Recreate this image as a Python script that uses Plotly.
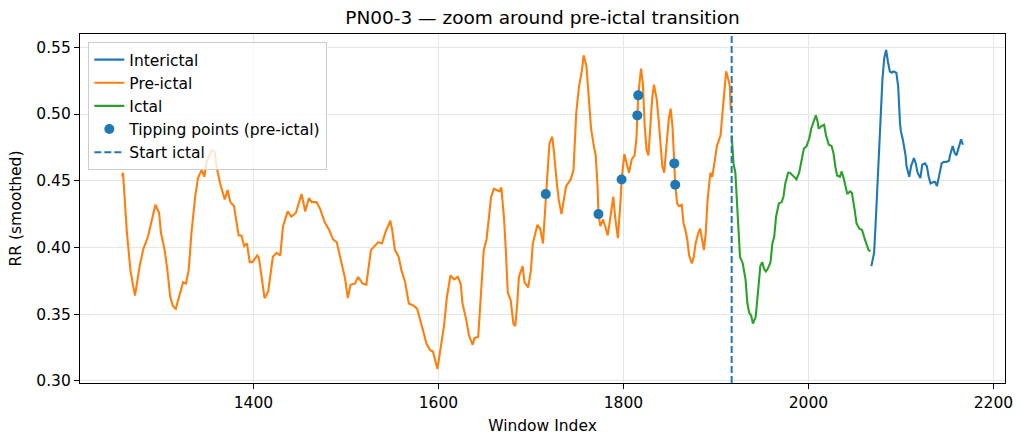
import plotly.graph_objects as go

# Smoothed RR series around the pre-ictal -> ictal transition (window index, RR)
pre_x = [1258, 1259, 1263, 1267, 1270, 1272, 1277, 1281, 1286, 1290, 1294, 1298, 1300, 1304,
         1307, 1310, 1313, 1316, 1321, 1324, 1327, 1330, 1333, 1337, 1340, 1344, 1347, 1349,
         1351, 1355, 1358, 1360, 1364, 1369, 1372, 1375, 1379, 1384, 1387, 1390, 1393, 1396,
         1399, 1404, 1406, 1409, 1412, 1416, 1421, 1425, 1429, 1432, 1437, 1441, 1446, 1448,
         1452, 1456, 1460, 1463, 1468, 1472, 1477, 1482, 1486, 1490, 1495, 1499, 1502, 1505,
         1510, 1513, 1518, 1522, 1527, 1531, 1535, 1539, 1543, 1548, 1550, 1553, 1557, 1560,
         1564, 1568, 1574, 1577, 1582, 1584, 1587, 1591, 1594, 1599, 1602, 1606, 1609, 1613,
         1617, 1621, 1624, 1626, 1630, 1633, 1637, 1639, 1643, 1646, 1649, 1652, 1655, 1657,
         1660, 1664, 1666, 1668, 1671, 1673, 1675, 1678, 1681, 1683, 1685, 1687, 1691, 1693,
         1697, 1700, 1702, 1707, 1710, 1713, 1715, 1716, 1718, 1720, 1723, 1725, 1728, 1730,
         1733, 1736, 1738, 1743, 1746, 1749, 1752, 1755, 1757, 1760, 1763, 1765, 1768, 1770,
         1772, 1773, 1775, 1778, 1781, 1783, 1786, 1789, 1791, 1794, 1797, 1798, 1801, 1804,
         1806, 1809, 1812, 1814, 1815, 1816, 1819, 1821, 1823, 1825, 1827, 1829, 1831, 1833,
         1836, 1838, 1840, 1842, 1844, 1846, 1849, 1851, 1853, 1855, 1856, 1858, 1860, 1863,
         1865, 1867, 1869, 1871, 1874, 1876, 1878, 1881, 1883, 1885, 1887, 1889, 1891, 1894,
         1896, 1899, 1901, 1905, 1907, 1909, 1911, 1913, 1915, 1916]
pre_y = [0.453, 0.456, 0.413, 0.383, 0.371, 0.364, 0.386, 0.399, 0.408, 0.421, 0.432, 0.426, 0.411, 0.398,
         0.383, 0.363, 0.356, 0.354, 0.366, 0.374, 0.373, 0.383, 0.411, 0.438, 0.452, 0.458, 0.453, 0.463,
         0.467, 0.473, 0.472, 0.461, 0.448, 0.436, 0.443, 0.434, 0.431, 0.409, 0.409, 0.401, 0.403, 0.389,
         0.389, 0.394, 0.392, 0.378, 0.362, 0.367, 0.393, 0.396, 0.394, 0.416, 0.427, 0.423, 0.426, 0.431,
         0.440, 0.427, 0.437, 0.434, 0.434, 0.429, 0.419, 0.413, 0.406, 0.404, 0.388, 0.377, 0.362, 0.372,
         0.373, 0.378, 0.373, 0.372, 0.398, 0.401, 0.404, 0.403, 0.412, 0.420, 0.413, 0.398, 0.393, 0.383,
         0.374, 0.358, 0.356, 0.354, 0.342, 0.336, 0.328, 0.323, 0.322, 0.309, 0.323, 0.341, 0.362, 0.379,
         0.376, 0.378, 0.373, 0.358, 0.346, 0.334, 0.327, 0.332, 0.333, 0.362, 0.398, 0.406, 0.426, 0.438,
         0.444, 0.443, 0.442, 0.445, 0.421, 0.396, 0.366, 0.361, 0.343, 0.341, 0.356, 0.378, 0.386, 0.374,
         0.370, 0.383, 0.403, 0.417, 0.414, 0.403, 0.426, 0.440, 0.463, 0.478, 0.483, 0.471, 0.448, 0.436,
         0.425, 0.436, 0.446, 0.451, 0.458, 0.501, 0.521, 0.532, 0.544, 0.536, 0.508, 0.489, 0.476, 0.469,
         0.446, 0.425, 0.416, 0.421, 0.414, 0.409, 0.423, 0.438, 0.423, 0.407, 0.436, 0.451, 0.470, 0.462,
         0.456, 0.466, 0.469, 0.481, 0.499, 0.514, 0.534, 0.523, 0.491, 0.473, 0.469, 0.488, 0.511, 0.522,
         0.511, 0.496, 0.478, 0.461, 0.456, 0.473, 0.496, 0.504, 0.491, 0.463, 0.447, 0.433, 0.431, 0.432,
         0.418, 0.413, 0.406, 0.394, 0.388, 0.393, 0.403, 0.411, 0.414, 0.406, 0.398, 0.411, 0.436, 0.456,
         0.453, 0.466, 0.476, 0.484, 0.501, 0.518, 0.532, 0.527, 0.521, 0.503]

ictal_x = [1917, 1919, 1921, 1923, 1925, 1926, 1929, 1932, 1934, 1936, 1938, 1940, 1943, 1945,
           1948, 1950, 1952, 1954, 1956, 1959, 1961, 1963, 1965, 1968, 1971, 1973, 1975, 1978,
           1980, 1983, 1987, 1990, 1992, 1995, 1998, 2001, 2003, 2006, 2008, 2010, 2011, 2014,
           2017, 2019, 2022, 2025, 2027, 2029, 2031, 2034, 2036, 2038, 2040, 2042, 2045, 2047,
           2050, 2052, 2055, 2058, 2061, 2063, 2065, 2067]
ictal_y = [0.484, 0.463, 0.456, 0.431, 0.406, 0.393, 0.388, 0.376, 0.358, 0.351, 0.349, 0.343, 0.348, 0.366,
           0.386, 0.389, 0.384, 0.382, 0.384, 0.389, 0.403, 0.408, 0.423, 0.433, 0.434, 0.438, 0.448, 0.456,
           0.456, 0.454, 0.451, 0.456, 0.464, 0.474, 0.476, 0.482, 0.489, 0.496, 0.499, 0.494, 0.489, 0.491,
           0.492, 0.484, 0.477, 0.476, 0.471, 0.461, 0.454, 0.453, 0.457, 0.452, 0.446, 0.440, 0.442, 0.441,
           0.428, 0.418, 0.414, 0.413, 0.406, 0.401, 0.398, 0.397]

inter_x = [2068, 2071, 2073, 2075, 2078, 2080, 2082, 2084, 2086, 2088, 2090, 2092, 2095, 2097,
           2099, 2100, 2102, 2105, 2106, 2109, 2111, 2114, 2116, 2118, 2121, 2123, 2126, 2128,
           2130, 2132, 2135, 2137, 2139, 2142, 2144, 2146, 2149, 2152, 2153, 2156, 2158, 2160,
           2162, 2165, 2167]
inter_y = [0.386, 0.396, 0.423, 0.456, 0.493, 0.526, 0.542, 0.548, 0.539, 0.532, 0.531, 0.532, 0.531, 0.521,
           0.493, 0.487, 0.481, 0.469, 0.461, 0.453, 0.461, 0.467, 0.463, 0.456, 0.452, 0.462, 0.463, 0.461,
           0.453, 0.448, 0.449, 0.449, 0.446, 0.457, 0.463, 0.464, 0.464, 0.465, 0.469, 0.476, 0.471, 0.469,
           0.474, 0.481, 0.477]

# Tipping-point windows inside the pre-ictal segment
tip_idx = [1716, 1773, 1798, 1815, 1816, 1855, 1856]
tip_y = [pre_y[pre_x.index(i)] for i in tip_idx]

ictal_start = 1917

x_range = [1212.5, 2212.5]
y_range = [0.2984, 0.560]
x_ticks = [1400, 1600, 1800, 2000, 2200]
y_ticks = [0.30, 0.35, 0.40, 0.45, 0.50, 0.55]

BLUE, ORANGE, GREEN = "#1f77b4", "#ff7f0e", "#2ca02c"
FONT = "DejaVu Sans"
FS = 15.5

fig = go.Figure()
fig.add_trace(go.Scatter(x=inter_x, y=inter_y, mode="lines", name="Interictal",
                         line=dict(color=BLUE, width=2.1)))
fig.add_trace(go.Scatter(x=pre_x, y=pre_y, mode="lines", name="Pre-ictal",
                         line=dict(color=ORANGE, width=2.1)))
fig.add_trace(go.Scatter(x=ictal_x, y=ictal_y, mode="lines", name="Ictal",
                         line=dict(color=GREEN, width=2.1)))
fig.add_trace(go.Scatter(x=tip_idx, y=tip_y, mode="markers", name="Tipping points (pre-ictal)",
                         marker=dict(color=BLUE, size=10, line=dict(width=0))))
fig.add_trace(go.Scatter(x=[ictal_start, ictal_start], y=y_range, mode="lines", name="Start ictal",
                         line=dict(color=BLUE, width=2, dash="7px,3px")))

axis_common = dict(
    showline=True, linecolor="black", linewidth=1.1, mirror=True,
    ticks="outside", ticklen=5, tickwidth=1.1, tickcolor="black",
    showgrid=True, gridcolor="#e6e6e6", gridwidth=1.1, zeroline=False,
    automargin=False,
    tickfont=dict(family=FONT, size=FS, color="black"),
)

fig.update_layout(
    width=1020, height=438,
    margin=dict(l=80, r=15, t=34, b=55),
    paper_bgcolor="white", plot_bgcolor="white",
    font=dict(family=FONT, size=FS, color="black"),
    title=dict(text="PN00-3 — zoom around pre-ictal transition",
               x=0.5, xref="paper", xanchor="center",
               y=1 - 18 / 438, yref="container", yanchor="middle",
               font=dict(family=FONT, size=18.5, color="black")),
    xaxis=dict(range=x_range, tickvals=x_ticks, ticktext=[str(v) for v in x_ticks],
               title=dict(text="Window Index", standoff=9,
                          font=dict(family=FONT, size=FS, color="black")),
               **axis_common),
    yaxis=dict(range=y_range, tickvals=y_ticks, ticktext=[f"{v:.2f}" for v in y_ticks],
               title=dict(text="RR (smoothed)", standoff=10,
                          font=dict(family=FONT, size=FS, color="black")),
               **axis_common),
    legend=dict(x=0.009, y=0.977, xanchor="left", yanchor="top",
                bgcolor="rgba(255,255,255,0.8)", bordercolor="#cccccc", borderwidth=1,
                font=dict(family=FONT, size=FS, color="black"),
                tracegroupgap=0),
    showlegend=True,
)

fig.write_html("out.html")
